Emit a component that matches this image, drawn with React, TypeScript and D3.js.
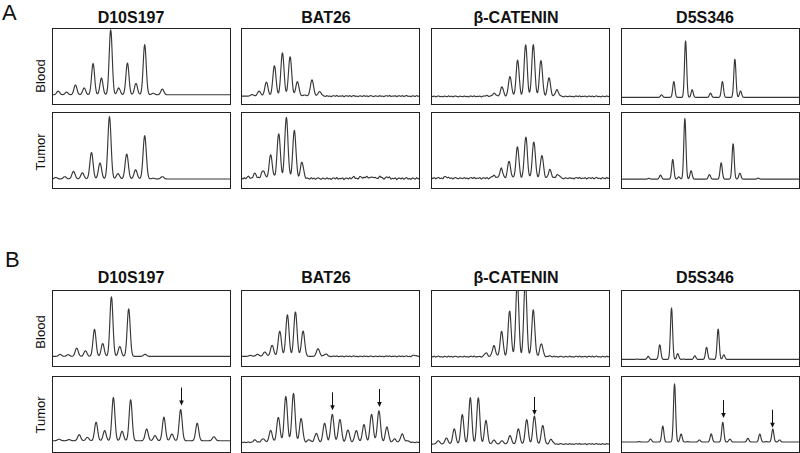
import * as d3 from 'd3';
import React from 'react';

type Peak = [number, number];

const sectionNames = ['A', 'B'];
const markers = ['D10S197', 'BAT26', 'β-CATENIN', 'D5S346'];
const rowNames = ['Blood', 'Tumor'];

// peaks: [position in window (0-100), height (% of panel)]
const aD10Blood: Peak[] = [[3.2, 4.8], [7.9, 3.5], [12.9, 13], [17.8, 9], [22.8, 41], [27.5, 22], [32.7, 86], [37.2, 9], [42.1, 42], [46.9, 15], [51.8, 66], [56.6, 2], [61.7, 7.5]];
const aD10Tumor: Peak[] = [[1.9, 2], [6.9, 3], [11.8, 10], [16.8, 8], [21.9, 35], [26.7, 21], [32.0, 82], [36.8, 7], [41.7, 33], [46.7, 12], [51.8, 57], [56.6, 1], [61.7, 3]];
const aBatBlood: Peak[] = [[6, 2], [9.9, 6.6], [14, 18.5], [18.5, 40], [23, 57], [27.3, 52], [31.4, 19], [35.5, 1.5], [39.6, 21.5], [43.9, 6]];
const aBatTumor: Peak[] = [[3.7, 2], [7.5, 6.6], [12.1, 11], [16.4, 31], [20.9, 60], [25.2, 81], [29.7, 63], [34, 21], [63, 1.5], [67, 2.2], [70.5, 2.5], [74, 2.2], [78, 2.4], [82, 1.6]];
const aCatBlood: Peak[] = [[31, 1], [35.3, 4.4], [39.6, 12.3], [44.1, 26.4], [48.4, 47.6], [52.9, 68.3], [57.2, 68.3], [61.5, 47.6], [66, 24.7], [70.5, 8.8]];
const aCatTumor: Peak[] = [[7.9, 2], [35.1, 4], [39.2, 12.5], [43.6, 22], [48.3, 41], [53, 54], [57.5, 48.5], [62, 30], [66.5, 11], [71, 5]];
const aD5Blood: Peak[] = [[22.5, 3.5], [29.4, 21], [36, 74.5], [39.7, 10], [50, 5.7], [56.7, 21], [63.7, 51], [66.9, 8.4]];
const aD5Tumor: Peak[] = [[15.4, 1], [21.9, 5.3], [28.8, 26], [32.2, 3], [35.6, 80], [39.1, 11], [49.4, 6.1], [56, 21.5], [62.7, 47], [66.5, 7.9], [76.8, 1.3]];

const bD10Blood: Peak[] = [[4.3, 2.7], [8.8, 2.2], [13.6, 11], [18.5, 7.5], [23.6, 35.5], [28.2, 17], [33.1, 79], [37.8, 13], [42.8, 62.7], [52, 2.7]];
const bD10Tumor: Peak[] = [[3.7, 2], [9.3, 1.5], [15, 8], [19.6, 4.5], [24.5, 24.5], [29.3, 13.3], [34.2, 57], [39.1, 12.4], [43.9, 54.2], [52.9, 15.5], [57.6, 6.7], [62.6, 31], [67.1, 8.9], [72, 41], [81.3, 23], [90.7, 5.3]];
const bBatBlood: Peak[] = [[5, 1.3], [9, 2.7], [13.1, 5.8], [17.2, 14.7], [21.5, 33.3], [25.8, 54.7], [30.3, 58.7], [34.6, 33.3], [43, 10], [47.3, 3.1], [97, 1.5]];
const bBatTumor: Peak[] = [[7.5, 3.1], [12.1, 4.9], [16.4, 15.6], [20.7, 33.3], [24.9, 60.9], [29.2, 64.4], [33.5, 31.1], [37.9, 3.6], [42, 12], [46.7, 25.3], [51, 36.9], [55.3, 30.2], [59.8, 16.4], [64.5, 15.6], [68.8, 23.1], [73.1, 36.9], [77.2, 41.3], [81.7, 20], [86, 4.4], [90.3, 11], [93.5, 2]];
const bCatBlood: Peak[] = [[30.6, 4.9], [35.1, 14.7], [39.4, 32.9], [43.9, 60.4], [48.2, 100], [52.7, 100], [57.2, 61.8], [61.7, 17.3], [66, 1]];
const bCatTumor: Peak[] = [[3.8, 4.4], [8.4, 8], [12.8, 20], [17.3, 39], [21.8, 61.3], [26.3, 61.3], [30.6, 31.1], [35.1, 5.3], [39.6, 4.4], [44.1, 11.1], [48.8, 20], [53.5, 32.4], [57.8, 36.9], [62.5, 24.4], [67.2, 6.2]];
const bD5Blood: Peak[] = [[8.8, 0.5], [15, 4], [21.5, 19.6], [28.1, 68.4], [31.6, 7.6], [34.8, 0.5], [41.2, 4.9], [47.8, 16], [50.6, 0.5], [54.3, 40.4], [57.5, 6.2]];
const bD5Tumor: Peak[] = [[10, 0.5], [16.3, 4], [23.2, 20.9], [29.8, 76.4], [33.5, 10.7], [37.2, 0.5], [43.8, 2.7], [50.4, 10.7], [56.9, 26.2], [60.9, 4], [71, 4.9], [77.7, 10.7], [81.3, 0.5], [85, 16.9], [88.8, 2.7]];

// arrows marking new alleles in tumor (B)
const bD10Arrows = [72];
const bBatArrows = [51, 77.2];
const bCatArrows = [57.4];
const bD5Arrows = [56.9, 84.6];

// hand-typed baseline ripple
const wiggle = [0.6, -0.4, 0.9, -0.7, 0.3, 1.1, -0.5, 0.2, -0.9, 0.7, 0.1, -0.6, 1.0, -0.3, 0.5, -0.8, 0.4, 0.8, -0.2, -0.7, 0.6, 0.0, -0.5, 0.9, -0.4, 0.3, -0.9, 0.5, 0.7, -0.3, 1.2, -0.6, 0.2, -0.1, 0.8, -1.0, 0.4];

interface Trace {
  base: number;
  sigma: number;
  peaks: Peak[];
  noise?: [number, number, number];
  arrows?: number[];
}

// [section][row][column]
const traces: Trace[][][] = [
  [
    [
      { base: 12.8, sigma: 0.85, peaks: aD10Blood },
      { base: 11, sigma: 0.9, peaks: aBatBlood, noise: [0.8, 45, 100] },
      { base: 10.6, sigma: 0.85, peaks: aCatBlood, noise: [0.7, 0, 100] },
      { base: 9.3, sigma: 0.6, peaks: aD5Blood },
    ],
    [
      { base: 12.5, sigma: 0.9, peaks: aD10Tumor },
      { base: 13, sigma: 0.9, peaks: aBatTumor, noise: [1.3, 0, 100] },
      { base: 13.5, sigma: 0.85, peaks: aCatTumor, noise: [1.1, 0, 100] },
      { base: 12.3, sigma: 0.6, peaks: aD5Tumor },
    ],
  ],
  [
    [
      { base: 13.3, sigma: 0.85, peaks: bD10Blood },
      { base: 13.3, sigma: 0.9, peaks: bBatBlood, noise: [0.6, 45, 100] },
      { base: 12.9, sigma: 0.85, peaks: bCatBlood, noise: [0.8, 0, 100] },
      { base: 9.3, sigma: 0.6, peaks: bD5Blood },
    ],
    [
      { base: 15.5, sigma: 0.85, peaks: bD10Tumor, arrows: bD10Arrows },
      { base: 13.3, sigma: 0.9, peaks: bBatTumor, noise: [0.5, 0, 100], arrows: bBatArrows },
      { base: 11.1, sigma: 0.85, peaks: bCatTumor, noise: [0.7, 65, 100], arrows: bCatArrows },
      { base: 13.8, sigma: 0.6, peaks: bD5Tumor, arrows: bD5Arrows },
    ],
  ],
];

const W = 800;
const H = 453;
const panelW = 178;
const panelH = 76;
const colX = (c: number) => 51.5 + c * 189.8;
const rowTop = [[28, 112], [289.5, 376]];
const titleY = [23, 283];
const titleX = [131, 326, 516, 705];
const letterPos = [[2, 20], [5, 267]];
const labelY = [[76, 152], [332, 415]];

const signal = (t: Trace, x: number) => {
  let v = t.base;
  for (const [p, h] of t.peaks) v += h * Math.exp(-0.5 * ((x - p) / t.sigma) ** 2);
  if (t.noise) {
    const [amp, from, to] = t.noise;
    if (x >= from && x <= to) {
      const k = x / 0.8;
      const i = Math.floor(k);
      const f = k - i;
      const a = wiggle[i % wiggle.length];
      const b = wiggle[(i + 1) % wiggle.length];
      v += amp * (a + (b - a) * f);
    }
  }
  return v;
};

const samples = d3.range(0, 100.001, 0.2);

const Panel = ({ t, x0, y0, id }: { t: Trace; x0: number; y0: number; id: string }) => {
  const xs = d3.scaleLinear().domain([0, 100]).range([x0, x0 + panelW]);
  const ys = d3.scaleLinear().domain([0, 100]).range([y0 + panelH, y0]);
  const line = d3
    .line<number>()
    .x(d => xs(d))
    .y(d => ys(signal(t, d)))
    .curve(d3.curveMonotoneX);
  return (
    <g>
      <clipPath id={id}>
        <rect x={x0} y={y0} width={panelW} height={panelH} />
      </clipPath>
      <path d={line(samples) || ''} fill="none" stroke="#383838" strokeWidth={1.15} clipPath={`url(#${id})`} />
      <rect x={x0} y={y0} width={panelW} height={panelH} fill="none" stroke="#222" strokeWidth={1} />
      {(t.arrows || []).map((a, i) => {
        const ax = Math.round(xs(a)) + 0.5;
        const tip = ys(signal(t, a)) - 4;
        return (
          <g key={i}>
            <line x1={ax} x2={ax} y1={tip - 18} y2={tip - 4} stroke="#111" strokeWidth={1} />
            <path d={`M${ax - 2.3},${tip - 5}L${ax + 2.3},${tip - 5}L${ax},${tip}Z`} fill="#111" />
          </g>
        );
      })}
    </g>
  );
};

export default function App() {
  const font = 'Liberation Sans, Arial, Helvetica, sans-serif';
  return (
    <svg
      width={W}
      height={H}
      viewBox={`0 0 ${W} ${H}`}
      style={{ position: 'absolute', left: 0, top: 0, background: '#fff' }}
      fontFamily={font}
    >
      {sectionNames.map((s, si) => (
        <g key={s}>
          <text x={letterPos[si][0]} y={letterPos[si][1]} fontSize={22} fill="#111">
            {s}
          </text>
          {markers.map((m, c) => (
            <text key={m} x={titleX[c]} y={titleY[si]} fontSize={16} fontWeight="bold" textAnchor="middle" fill="#111">
              {m}
            </text>
          ))}
          {rowNames.map((r, ri) => (
            <text
              key={r}
              transform={`translate(45,${labelY[si][ri]}) rotate(-90)`}
              fontSize={13}
              textAnchor="middle"
              fill="#111"
            >
              {r}
            </text>
          ))}
          {traces[si].map((row, ri) =>
            row.map((t, c) => (
              <Panel
                key={`${ri}-${c}`}
                t={t}
                x0={Math.round(colX(c)) + 0.5}
                y0={Math.round(rowTop[si][ri]) + 0.5}
                id={`clip-${si}-${ri}-${c}`}
              />
            ))
          )}
        </g>
      ))}
    </svg>
  );
}
